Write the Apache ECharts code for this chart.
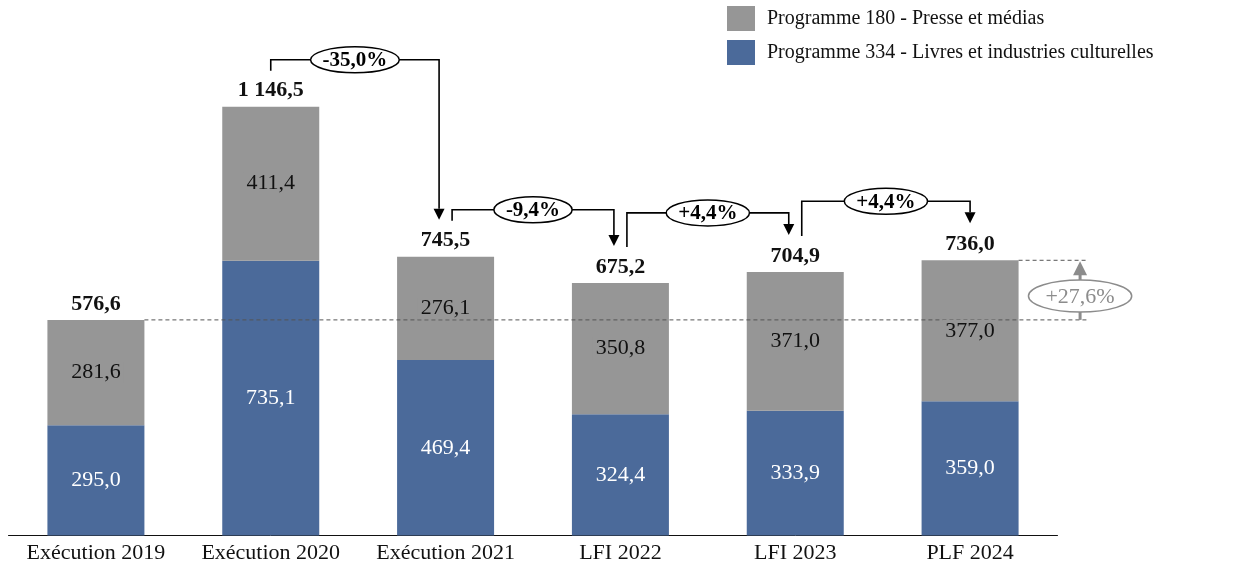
<!DOCTYPE html>
<html>
<head>
<meta charset="utf-8">
<script src="https://cdn.jsdelivr.net/npm/echarts@6/dist/echarts.min.js"></script>
<style>
  html, body { margin: 0; padding: 0; background: #fff; }
  #chart { width: 1236px; height: 567px; }
</style>
</head>
<body>
<div id="chart"></div>
<script>
var categories = ["Exécution 2019", "Exécution 2020", "Exécution 2021", "LFI 2022", "LFI 2023", "PLF 2024"];
var prog334 = [295.0, 735.1, 469.4, 324.4, 333.9, 359.0];
var prog180 = [281.6, 411.4, 276.1, 350.8, 371.0, 377.0];
var totals = [576.6, 1146.5, 745.5, 675.2, 704.9, 736.0];
// evolution d'une annee sur l'autre
var changeLabels = ["-35,0%", "-9,4%", "+4,4%", "+4,4%"];
var changeFrom = [1, 2, 3, 4];
var changeTo = [2, 3, 4, 5];
// evolution 2019 -> 2024
var overallLabel = "+27,6%";

var FONT = '"Liberation Serif", "Times New Roman", serif';
var BLUE = "#4b6a9a";
var GREY = "#969696";
var BAR_W = 97;

function fmt(v) {
  var s = v.toFixed(1).split(".");
  var ent = s[0].replace(/\B(?=(\d{3})+(?!\d))/g, " ");
  return ent + "," + s[1];
}

var measureCtx = document.createElement("canvas").getContext("2d");
function textWidth(txt, font) {
  measureCtx.font = font;
  return measureCtx.measureText(txt).width;
}

var myChart = echarts.init(document.getElementById("chart"));

// lignes de donnees pour les series custom
var labelRows = [];
for (var i = 0; i < categories.length; i++) {
  labelRows.push([i, prog334[i], prog180[i], totals[i]]);
}
var arrowRows = [];
for (var k = 0; k < changeLabels.length; k++) {
  arrowRows.push([changeFrom[k], totals[changeFrom[k]], changeTo[k], totals[changeTo[k]]]);
}
var first = 0, last = categories.length - 1;

function renderLabels(params, api) {
  var i = api.value(0);
  var p0 = api.coord([i, 0]);
  var p1 = api.coord([i, api.value(1)]);
  var p2 = api.coord([i, api.value(3)]);
  var f = "22px " + FONT;
  return {
    type: "group",
    children: [
      { type: "text", style: { x: p0[0], y: (p0[1] + p1[1]) / 2, text: fmt(api.value(1)), fill: "#fff", font: f, align: "center", verticalAlign: "middle" } },
      { type: "text", style: { x: p0[0], y: (p1[1] + p2[1]) / 2, text: fmt(api.value(2)), fill: "#111", font: f, align: "center", verticalAlign: "middle", backgroundColor: GREY, padding: [0, 3] } },
      { type: "text", style: { x: p0[0], y: p2[1] - 16, text: fmt(api.value(3)), fill: "#111", font: "bold " + f, align: "center", verticalAlign: "middle" } }
    ]
  };
}

function renderArrows(params, api) {
  var from = api.value(0), to = api.value(2);
  var a = api.coord([from, api.value(1)]);
  var b = api.coord([to, api.value(3)]);
  var hasIn = changeTo.indexOf(from) >= 0;
  var hasOut = changeFrom.indexOf(to) >= 0;
  var sx = a[0] + (hasIn ? 6.5 : 0);
  var ex = b[0] - (hasOut ? 6.5 : 0);
  var sy = a[1] - 36;
  var ty = b[1] - 37;
  var head = 11;
  var hy = Math.min(sy, ty - head) - 11;
  var txt = changeLabels[params.dataIndex];
  var f = "bold 21px " + FONT;
  var rx = textWidth(txt, f) / 2 + 12;
  var cx = (sx + ex) / 2;
  return {
    type: "group",
    children: [
      { type: "polyline", shape: { points: [[sx, sy], [sx, hy], [ex, hy], [ex, ty - head]] }, style: { stroke: "#000", lineWidth: 1.6, fill: null } },
      { type: "polygon", shape: { points: [[ex - 5.5, ty - head], [ex + 5.5, ty - head], [ex, ty]] }, style: { fill: "#000" } },
      { type: "ellipse", shape: { cx: cx, cy: hy, rx: rx, ry: 13 }, style: { fill: "#fff", stroke: "#000", lineWidth: 1.5 } },
      { type: "text", style: { x: cx, y: hy + 1, text: txt, fill: "#000", font: f, align: "center", verticalAlign: "middle" } }
    ]
  };
}

function renderOverall(params, api) {
  var a = api.coord([api.value(0), api.value(1)]);
  var b = api.coord([api.value(2), api.value(3)]);
  var endX = b[0] + 118;
  var ax = b[0] + 110;
  var dash = { stroke: "#555", lineWidth: 1, lineDash: [4, 3] };
  var f = "22px " + FONT;
  var cy = (a[1] + b[1]) / 2 + 6;
  return {
    type: "group",
    children: [
      { type: "line", shape: { x1: a[0] + BAR_W / 2, y1: a[1], x2: endX, y2: a[1] }, style: dash },
      { type: "line", shape: { x1: b[0] + BAR_W / 2, y1: b[1], x2: endX, y2: b[1] }, style: dash },
      { type: "line", shape: { x1: ax, y1: a[1], x2: ax, y2: b[1] + 14 }, style: { stroke: "#8c8c8c", lineWidth: 3 } },
      { type: "polygon", shape: { points: [[ax - 7, b[1] + 15], [ax + 7, b[1] + 15], [ax, b[1] + 1]] }, style: { fill: "#8c8c8c" } },
      { type: "ellipse", shape: { cx: ax, cy: cy, rx: textWidth(overallLabel, f) / 2 + 17, ry: 16 }, style: { fill: "#fff", stroke: "#8c8c8c", lineWidth: 1.5 } },
      { type: "text", style: { x: ax, y: cy + 1, text: overallLabel, fill: "#8c8c8c", font: f, align: "center", verticalAlign: "middle" } }
    ]
  };
}

var option = {
  animation: false,
  textStyle: { fontFamily: FONT },
  grid: { left: 8.5, right: 178.5, top: 12, bottom: 31.5, containLabel: false },
  legend: {
    orient: "vertical",
    left: 727,
    top: 6,
    padding: 0,
    itemWidth: 28,
    itemHeight: 25,
    itemGap: 9,
    icon: "rect",
    data: ["Programme 180 - Presse et médias", "Programme 334 - Livres et industries culturelles"],
    textStyle: { fontFamily: FONT, fontSize: 20, color: "#111", lineHeight: 25, padding: [0, 0, 0, 7] }
  },
  xAxis: {
    type: "category",
    data: categories,
    axisLine: { lineStyle: { color: "#111", width: 1 } },
    axisTick: { show: false },
    axisLabel: { interval: 0, fontFamily: FONT, fontSize: 22, color: "#111", margin: 7 }
  },
  yAxis: {
    type: "value",
    min: 0,
    max: 1400,
    show: false,
    splitLine: { show: false }
  },
  series: [
    {
      name: "Programme 334 - Livres et industries culturelles",
      type: "bar",
      stack: "total",
      barWidth: BAR_W,
      data: prog334,
      itemStyle: { color: BLUE },
      z: 2
    },
    {
      name: "Programme 180 - Presse et médias",
      type: "bar",
      stack: "total",
      barWidth: BAR_W,
      data: prog180,
      itemStyle: { color: GREY },
      z: 2
    },
    {
      type: "custom",
      renderItem: renderOverall,
      data: [[first, totals[first], last, totals[last]]],
      encode: { x: 0, y: 1 },
      silent: true,
      z: 3
    },
    {
      type: "custom",
      renderItem: renderLabels,
      data: labelRows,
      encode: { x: 0, y: 3 },
      silent: true,
      z: 4
    },
    {
      type: "custom",
      renderItem: renderArrows,
      data: arrowRows,
      encode: { x: 0, y: 1 },
      silent: true,
      z: 4
    }
  ]
};

myChart.setOption(option);
window.addEventListener("resize", function () {
  myChart.resize();
});
</script>
</body>
</html>
